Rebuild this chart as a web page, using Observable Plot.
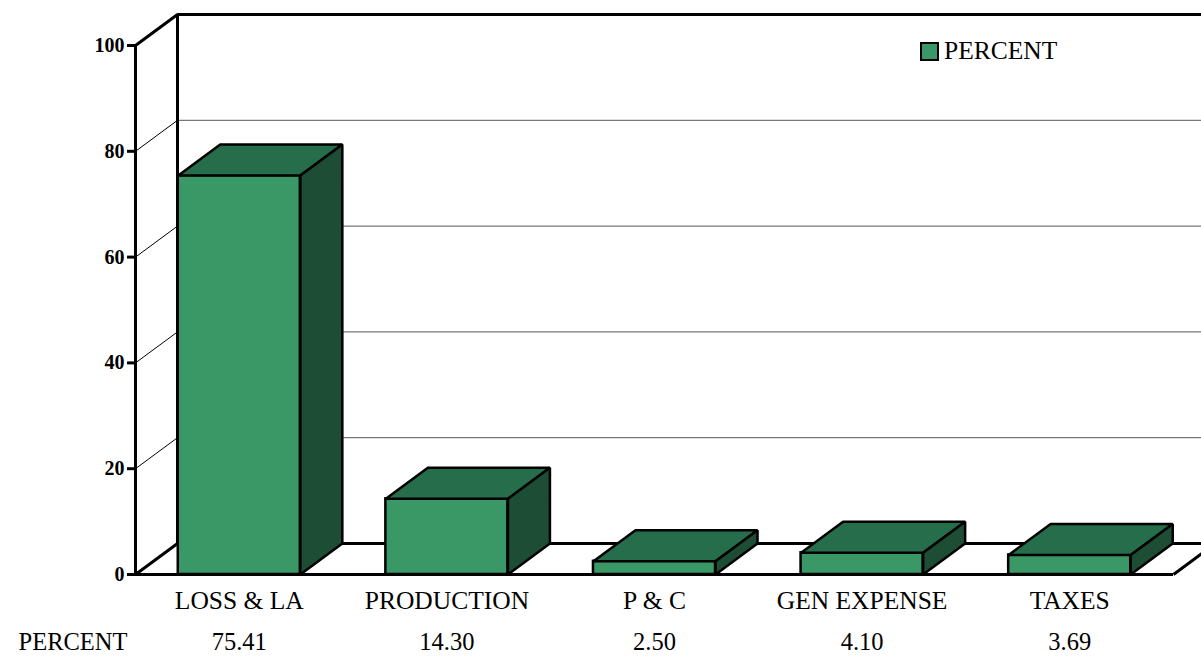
<!DOCTYPE html>
<html>
<head>
<meta charset="utf-8">
<script src="https://cdn.jsdelivr.net/npm/d3@7"></script>
<script src="https://cdn.jsdelivr.net/npm/@observablehq/plot@0.6"></script>
<style>
  html, body { margin: 0; padding: 0; background: white; overflow: hidden; }
  #wrap { position: relative; width: 1201px; height: 657px; }
  #legend { position: absolute; left: 920px; top: 36px; display: flex; align-items: center;
            font-family: "Liberation Serif", "Times New Roman", serif; font-size: 25.5px; color: black; }
  #legend .sw { width: 15px; height: 15px; border: 2px solid black; margin-right: 5px; }
</style>
</head>
<body>
<div id="wrap"><div id="legend"></div></div>
<script>
// ---- data ----
const categories = ["LOSS & LA", "PRODUCTION", "P & C", "GEN EXPENSE", "TAXES"];
const percent = [75.41, 14.30, 2.50, 4.10, 3.69];
const seriesName = "PERCENT";
const yTicks = [0, 20, 40, 60, 80, 100];
const gridValues = [20, 40, 60, 80];

// ---- styling / layout constants ----
const frontColor = "#3a9766";
const topColor = "#266d4c";
const sideColor = "#1d4d34";
const W = 1201, H = 657;
const mL = 135, mR = 28, mT = 45, mB = 83;
const stepPx = (W - mL - mR) / categories.length;
const pxPerUnitY = (H - mT - mB) / 100;
const depthX = 42 / stepPx;          // oblique depth in category units
const depthY = 31 / pxPerUnitY;      // oblique depth in value units
const barPad = 0.206;                // fraction of band before bar
const tickLen = 8 / stepPx;
const xEnd = categories.length;

// ---- build faces ----
const rows = categories.map((c, i) => ({c, i, v: percent[i], x1: i + barPad, x2: i + 1 - barPad}));
const polys = [];
rows.forEach(r => {
  const {x1, x2, v, i} = r;
  const top = [[x1, v], [x2, v], [x2 + depthX, v + depthY], [x1 + depthX, v + depthY], [x1, v]];
  const side = [[x2, 0], [x2 + depthX, depthY], [x2 + depthX, v + depthY], [x2, v], [x2, 0]];
  top.forEach(([x, y]) => polys.push({x, y, id: "t" + i, face: "top"}));
  side.forEach(([x, y]) => polys.push({x, y, id: "s" + i, face: "side"}));
});
const topPts = polys.filter(d => d.face === "top");
const sidePts = polys.filter(d => d.face === "side");

const thick = {stroke: "black", strokeWidth: 3};
const marks = [
  // back wall gridlines
  Plot.ruleY(gridValues, {y: d => d + depthY, x1: depthX, x2: xEnd + depthX + 0.2, stroke: "#555", strokeWidth: 1}),
  // left wall diagonals (thin)
  Plot.link(gridValues, {x1: 0, y1: d => d, x2: depthX, y2: d => d + depthY, stroke: "black", strokeWidth: 1}),
  // back wall top & left edge
  Plot.ruleY([100 + depthY], {x1: depthX, x2: xEnd + depthX + 0.2, ...thick}),
  Plot.ruleX([depthX], {y1: depthY, y2: 100 + depthY, ...thick}),
  Plot.link([100], {x1: 0, y1: d => d, x2: depthX, y2: d => d + depthY, ...thick}),
  // floor
  Plot.ruleY([depthY], {x1: depthX, x2: xEnd + depthX + 0.2, ...thick}),
  Plot.link([0], {x1: 0, y1: 0, x2: depthX, y2: depthY, ...thick}),
  Plot.link([0], {x1: xEnd, y1: 0, x2: xEnd + depthX, y2: depthY, ...thick}),
  Plot.ruleY([0], {x1: -tickLen, x2: xEnd, ...thick}),
  // front axis + ticks
  Plot.ruleX([0], {y1: 0, y2: 100, ...thick}),
  Plot.ruleY(yTicks, {y: d => d, x1: -tickLen, x2: 0, ...thick}),
  Plot.text(yTicks, {x: 0, y: d => d, text: d => String(d), dx: -11, textAnchor: "end",
    fontWeight: "bold", fontSize: 20, fill: "black"}),
  // bars
  Plot.rect(rows, {x1: "x1", x2: "x2", y1: 0, y2: "v", fill: frontColor, stroke: "black", strokeWidth: 2.5}),
  Plot.line(topPts, {x: "x", y: "y", z: "id", fill: topColor, stroke: "black", strokeWidth: 2.5, strokeLinejoin: "miter"}),
  Plot.line(sidePts, {x: "x", y: "y", z: "id", fill: sideColor, stroke: "black", strokeWidth: 2.5, strokeLinejoin: "miter"}),
  // category labels
  Plot.text(rows, {x: d => d.i + 0.5, y: 0, text: "c", dy: 26, fontSize: 25.5, fill: "black"}),
  // data table row
  Plot.text([seriesName], {x: 0, y: 0, text: d => d, dx: -8, dy: 68, textAnchor: "end", fontSize: 24.5, fill: "black"}),
  Plot.text(rows, {x: d => d.i + 0.5, y: 0, text: d => d.v.toFixed(2), dy: 68, fontSize: 24.5, fill: "black"})
];

const chart = Plot.plot({
  width: W, height: H,
  marginLeft: mL, marginRight: mR, marginTop: mT, marginBottom: mB,
  x: {domain: [0, xEnd], axis: null},
  y: {domain: [0, 100], axis: null},
  style: {fontFamily: "'Liberation Serif', 'Times New Roman', serif", background: "white", color: "black", overflow: "hidden"},
  marks
});
const wrap = document.getElementById("wrap");
wrap.insertBefore(chart, wrap.firstChild);

const legend = document.getElementById("legend");
legend.innerHTML = `<div class="sw" style="background:${frontColor}"></div><span>${seriesName}</span>`;
</script>
</body>
</html>
